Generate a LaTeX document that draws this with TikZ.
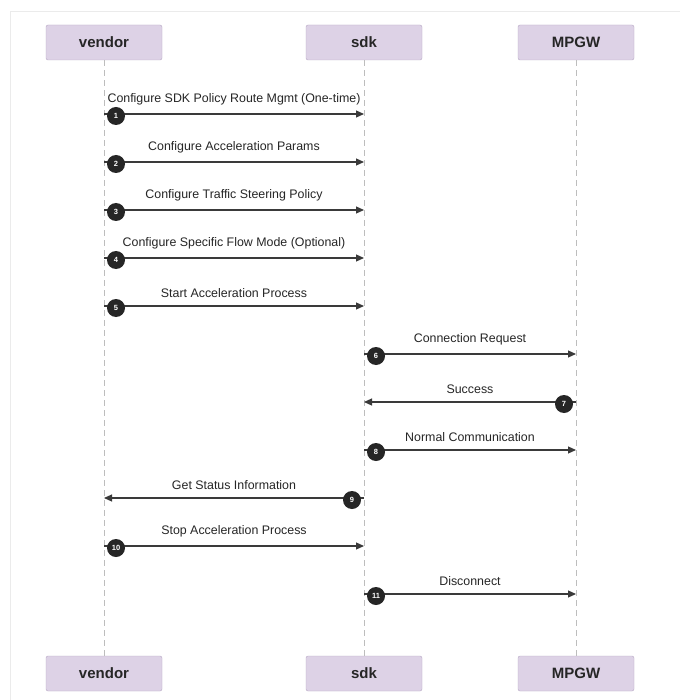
\documentclass[tikz,border=0pt]{standalone}
\usepackage{fontspec}
\setmainfont{Liberation Sans}
\usetikzlibrary{arrows.meta}
\definecolor{boxfill}{HTML}{DDD2E6}
\definecolor{boxline}{HTML}{B7A9C4}
\definecolor{lifeline}{HTML}{BDBDBD}
\definecolor{msgline}{HTML}{3A3A3A}
\definecolor{dotfill}{HTML}{262626}
\tikzset{
  actor/.style={draw=boxline, fill=boxfill, rounded corners=2pt, minimum width=116pt, minimum height=35pt, inner sep=0pt, font=\fontsize{15}{17}\selectfont\bfseries, text=black!85},
  life/.style={draw=lifeline, dashed, dash pattern=on 6pt off 4pt, line width=0.8pt},
  msg/.style={draw=msgline, line width=1.1pt, -{Triangle[length=8pt,width=7pt]}},
  mlabel/.style={font=\fontsize{12.4}{14}\selectfont, text=black!85, inner sep=0pt},
  num/.style={circle, fill=dotfill, text=white, minimum size=18pt, inner sep=0pt, font=\fontsize{7.5}{8}\selectfont\bfseries},
}
\begin{document}
\begin{tikzpicture}[x=1pt,y=-1pt]
\useasboundingbox (0,0) rectangle (679,700);
\fill[white] (0,0) rectangle (679,700);
\draw[black!8, line width=1pt] (10,12) -- (690,12);
\draw[black!8, line width=1pt] (10,12) -- (10,710);
% participants
\node[actor] (vt) at (104,42.5) {vendor};
\node[actor] (st) at (364,42.5) {sdk};
\node[actor] (mt) at (576,42.5) {MPGW};
\node[actor] (vb) at (104,673.5) {vendor};
\node[actor] (sb) at (364,673.5) {sdk};
\node[actor] (mb) at (576,673.5) {MPGW};
\draw[life] (vt) -- (vb);
\draw[life] (st) -- (sb);
\draw[life] (mt) -- (mb);
% message anchor coordinates
\foreach \i/\y in {1/114,2/162,3/210,4/258,5/306,6/354,7/402,8/450,9/498,10/546,11/594}{
  \coordinate (v\i) at (104,\y);
  \coordinate (s\i) at (364,\y);
  \coordinate (m\i) at (576,\y);
}
% messages
\draw[msg] (v1) -- node[mlabel, above=8pt] (l1) {Configure SDK Policy Route Mgmt (One-time)} (s1);
\draw[msg] (v2) -- node[mlabel, above=8pt] (l2) {Configure Acceleration Params} (s2);
\draw[msg] (v3) -- node[mlabel, above=8pt] (l3) {Configure Traffic Steering Policy} (s3);
\draw[msg] (v4) -- node[mlabel, above=8pt] (l4) {Configure Specific Flow Mode (Optional)} (s4);
\draw[msg] (v5) -- node[mlabel, above=8pt] (l5) {Start Acceleration Process} (s5);
\draw[msg] (s6) -- node[mlabel, above=8pt] (l6) {Connection Request} (m6);
\draw[msg] (m7) -- node[mlabel, above=8pt] (l7) {Success} (s7);
\draw[msg] (s8) -- node[mlabel, above=8pt] (l8) {Normal Communication} (m8);
\draw[msg] (s9) -- node[mlabel, above=8pt] (l9) {Get Status Information} (v9);
\draw[msg] (v10) -- node[mlabel, above=8pt] (l10) {Stop Acceleration Process} (s10);
\draw[msg] (s11) -- node[mlabel, above=8pt] (l11) {Disconnect} (m11);
% sequence numbers
\node[num] (n1) at (116,116) {1};
\node[num] (n2) at (116,164) {2};
\node[num] (n3) at (116,212) {3};
\node[num] (n4) at (116,260) {4};
\node[num] (n5) at (116,308) {5};
\node[num] (n6) at (376,356) {6};
\node[num] (n7) at (564,404) {7};
\node[num] (n8) at (376,452) {8};
\node[num] (n9) at (352,500) {9};
\node[num] (n10) at (116,548) {10};
\node[num] (n11) at (376,596) {11};
\end{tikzpicture}
\end{document}
